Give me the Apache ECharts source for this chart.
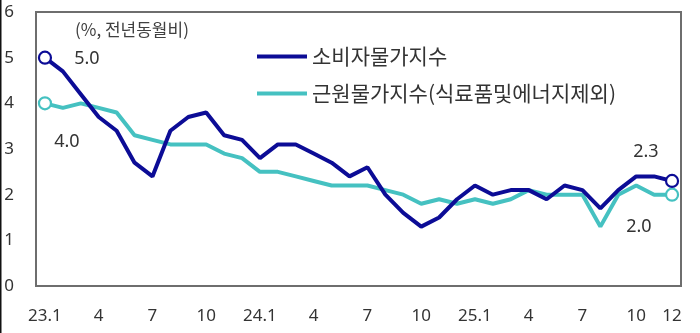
<!DOCTYPE html>
<html>
<head>
<meta charset="utf-8">
<script src="https://cdn.jsdelivr.net/npm/echarts@6/dist/echarts.min.js"></script>
<style>
html,body{margin:0;padding:0;background:#fff;}
#c{width:700px;height:333px;}
</style>
</head>
<body>
<div id="c"></div>
<script>
const categories = ['23.1','23.2','23.3','23.4','23.5','23.6','23.7','23.8','23.9','23.10','23.11','23.12',
  '24.1','24.2','24.3','24.4','24.5','24.6','24.7','24.8','24.9','24.10','24.11','24.12',
  '25.1','25.2','25.3','25.4','25.5','25.6','25.7','25.8','25.9','25.10','25.11','25.12'];
const cpi = [5.0,4.7,4.2,3.7,3.4,2.7,2.4,3.4,3.7,3.8,3.3,3.2,
  2.8,3.1,3.1,2.9,2.7,2.4,2.6,2.0,1.6,1.3,1.5,1.9,
  2.2,2.0,2.1,2.1,1.9,2.2,2.1,1.7,2.1,2.4,2.4,2.3];
const core = [4.0,3.9,4.0,3.9,3.8,3.3,3.2,3.1,3.1,3.1,2.9,2.8,
  2.5,2.5,2.4,2.3,2.2,2.2,2.2,2.1,2.0,1.8,1.9,1.8,
  1.9,1.8,1.9,2.1,2.0,2.0,2.0,1.3,2.0,2.2,2.0,2.0];
const tickIndices = [0,3,6,9,12,15,18,21,24,27,30,33,35];
const seriesNames = ['소비자물가지수','근원물가지수(식료품및에너지제외)'];
const unitText = '(%, 전년동월비)';

const C1 = '#0c0c96', C2 = '#45c1c1';
const frameColor = '#6e6e6e';
const numFont = '"Noto Sans","Segoe UI","DejaVu Sans",sans-serif';
const krFont = '"Noto Sans CJK KR","Noto Sans",sans-serif';
const W = 700, H = 333;
const G = {left: 36, right: 19, top: 12, bottom: 47};
const gw = W - G.left - G.right, gh = H - G.top - G.bottom, lw = 2;

function buildData(vals, color, firstPos, lastPos) {
  const n = vals.length;
  return vals.map((v, i) => {
    if (i === 0 || i === n - 1) {
      const pos = i === 0 ? firstPos : lastPos;
      return {
        value: v,
        symbol: 'circle',
        symbolSize: 12,
        itemStyle: {color: '#fff', borderColor: color, borderWidth: 2.2},
        label: {
          show: true, position: pos, align: 'center', verticalAlign: 'middle',
          formatter: p => p.value.toFixed(1),
          fontFamily: numFont, fontSize: 18, color: '#333'
        }
      };
    }
    return {value: v, symbol: 'none'};
  });
}

function frameRect(l, t, w, h) {
  return {type: 'rect', left: l, top: t, z: 1, silent: true, shape: {width: w, height: h}, style: {fill: frameColor}};
}

const chart = echarts.init(document.getElementById('c'), null, {renderer: 'canvas'});
chart.setOption({
  animation: false,
  backgroundColor: '#fff',
  grid: G,
  graphic: [
    {type: 'rect', left: 0, top: 0, shape: {width: 1.5, height: H}, style: {fill: '#111'}},
    frameRect(G.left - 1, G.top - 1, gw + 2, lw),
    frameRect(G.left - 1, G.top + gh - 1, gw + 2, lw),
    frameRect(G.left - 1, G.top - 1, lw, gh + 2),
    frameRect(G.left + gw - 1, G.top - 1, lw, gh + 2),
    {type: 'text', left: 75, top: 21, style: {text: unitText, font: '17px ' + krFont, fill: '#404040'}}
  ],
  legend: {
    orient: 'vertical', left: 252, top: 41, itemWidth: 50, itemHeight: 4, itemGap: 16,
    icon: 'rect',
    data: seriesNames,
    textStyle: {fontFamily: krFont, fontSize: 21, color: '#333'}
  },
  xAxis: {
    type: 'category', data: categories, boundaryGap: true,
    axisLine: {show: false}, axisTick: {show: false},
    axisLabel: {
      interval: (i) => tickIndices.indexOf(i) >= 0,
      formatter: (v) => { const p = v.split('.'); return p[1] === '1' ? v : p[1]; },
      margin: 22, fontFamily: numFont, fontSize: 17, color: '#333'
    },
    splitLine: {show: false}
  },
  yAxis: {
    type: 'value', min: 0, max: 6, interval: 1,
    axisLine: {show: false}, axisTick: {show: false}, splitLine: {show: false},
    axisLabel: {margin: 22, fontFamily: numFont, fontSize: 17, color: '#333', align: 'right'}
  },
  series: [
    {
      name: seriesNames[1], type: 'line', z: 2,
      data: buildData(core, C2, [29, 46], [-26, 39]),
      lineStyle: {color: C2, width: 4}, itemStyle: {color: C2},
      showAllSymbol: true
    },
    {
      name: seriesNames[0], type: 'line', z: 3,
      data: buildData(cpi, C1, [49, 8], [-19, -22]),
      lineStyle: {color: C1, width: 4}, itemStyle: {color: C1},
      showAllSymbol: true
    }
  ]
});
</script>
</body>
</html>
